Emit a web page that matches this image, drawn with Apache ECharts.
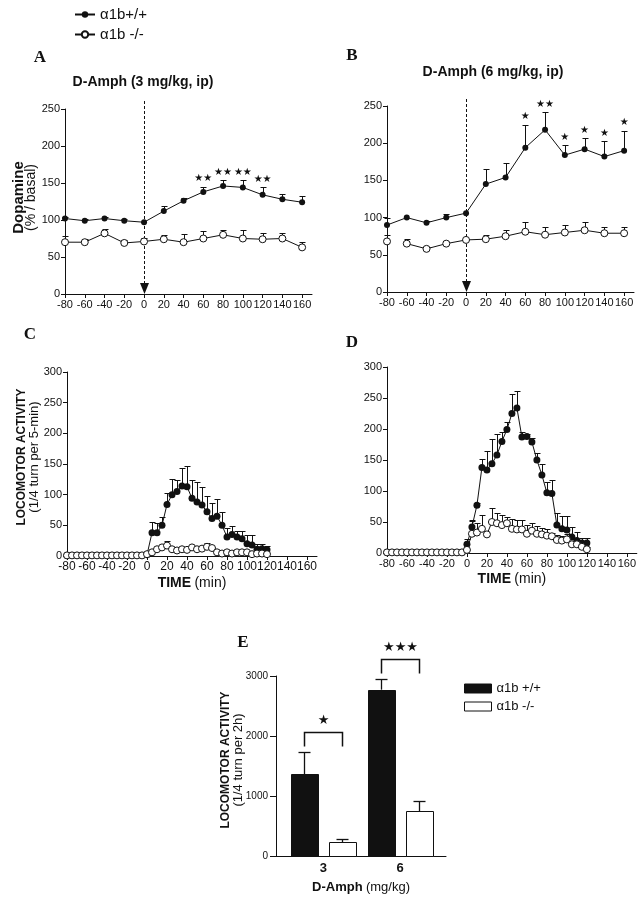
<!DOCTYPE html>
<html><head><meta charset="utf-8">
<script src="https://cdn.jsdelivr.net/npm/echarts@6/dist/echarts.min.js"></script>
<style>html,body{margin:0;padding:0;background:#fff}#c{width:639px;height:900px}</style>
</head><body><div id="c"></div>
<script>
// ---------- DATA ----------
const timeTicks = [-80,-60,-40,-20,0,20,40,60,80,100,120,140,160];
const dopTimes = [-80,-60,-40,-20,0,20,40,60,80,100,120,140,160];
const dopA_wt     = [102,99,102,99,97,112,126,138,146,144,134,128,124];
const dopA_wt_err = [2,2,2,2,0,7,4,7,8,10,10,7,9];
const dopA_ko     = [70,70,82,69,71,74,70,75,80,75,74,75,63];
const dopA_ko_err = [8,5,6,4,5,6,11,10,7,11,8,7,7];
const starsA      = [0,0,0,0,0,0,0,2,2,2,2,0,0];
const dopB_wt     = [90,100,93,100,106,145,154,194,218,184,192,182,190];
const dopB_wt_err = [10,0,3,5,0,20,20,31,24,13,15,21,27];
const dopB_ko     = [68,65,58,65,70,71,75,81,77,80,83,79,79];
const dopB_ko_err = [8,6,3,0,0,6,8,13,11,10,11,8,8];
const starsB      = [0,0,0,0,0,0,0,1,2,1,1,1,1];
const dopB_koBreakAfter = [0];

const locTimes = [-80,-75,-70,-65,-60,-55,-50,-45,-40,-35,-30,-25,-20,-15,-10,-5,0,5,10,15,20,25,30,35,40,45,50,55,60,65,70,75,80,85,90,95,100,105,110,115,120];
const locC_wt     = [1,1,1,1,1,1,1,1,1,1,1,1,1,1,1,1,2,38,38,50,84,100,105,114,113,94,88,83,72,61,65,50,31,35,31,28,20,18,11,12,10];
const locC_wt_err = [0,0,0,0,0,0,0,0,0,0,0,0,0,0,0,0,0,17,15,14,19,25,19,29,34,30,32,30,26,25,28,21,14,14,9,12,14,16,9,8,6];
const locC_ko     = [1,1,1,1,1,1,1,1,1,1,1,1,1,1,1,1,3,6,11,14,17,11,9,11,10,14,11,12,15,13,6,4,6,4,6,6,6,3,4,4,3];
const locC_ko_err = [0,0,0,0,0,0,0,0,0,0,0,0,0,0,0,0,0,0,0,0,7,0,0,0,0,0,0,0,6,0,0,0,0,0,0,0,0,0,0,0,0];
const locD_wt     = [1,1,1,1,1,1,1,1,1,1,1,1,1,1,1,1,14,42,77,138,134,144,158,180,199,225,234,187,188,179,150,126,97,96,45,39,37,26,20,16,16];
const locD_wt_err = [0,0,0,0,0,0,0,0,0,0,0,0,0,0,0,0,9,12,4,14,30,40,34,15,12,32,27,8,4,6,12,18,17,22,20,21,22,16,14,9,9];
const locD_ko     = [1,1,1,1,1,1,1,1,1,1,1,1,1,1,1,1,5,31,33,39,30,50,48,45,48,39,38,38,31,36,31,30,28,27,21,20,22,14,14,10,6];
const locD_ko_err = [0,0,0,0,0,0,0,0,0,0,0,0,0,0,0,0,0,20,15,23,0,23,16,17,10,16,16,16,14,12,12,10,11,6,8,8,8,6,6,5,4];

const doses = [3, 6];
const totWT     = [1361, 2772];
const totWT_err = [378, 184];
const totKO     = [228, 744];
const totKO_err = [61, 178];
const totSig    = ['★', '★★★'];
const injectionTime = 0;

// ---------- STYLE ----------
const F = '"Liberation Sans", Arial, sans-serif';
const INK = '#111';
const WT = 'α1b+/+', KO = 'α1b -/-', WT2 = 'α1b +/+';

const chart = echarts.init(document.getElementById('c'));

function timeX(gi, fs) {
  return {type:'value', gridIndex:gi, min:-80, max:170, interval:20,
    axisLine:{show:true, onZero:false, lineStyle:{color:INK, width:1}},
    axisTick:{show:true, length:4, customValues:timeTicks, lineStyle:{color:INK}},
    axisLabel:{customValues:timeTicks, color:INK, fontSize:fs, fontFamily:F, margin:5, showMinLabel:true, showMaxLabel:true, hideOverlap:false},
    splitLine:{show:false}};
}
function valY(gi, max, interval, extra) {
  return Object.assign({type:'value', gridIndex:gi, min:0, max:max, interval:interval,
    axisLine:{show:true, onZero:false, lineStyle:{color:INK, width:1}},
    axisTick:{show:true, length:4, lineStyle:{color:INK}},
    axisLabel:{color:INK, fontSize:11, fontFamily:F, margin:5},
    splitLine:{show:false}, nameMoveOverlap:false}, extra||{});
}
function lineS(name, ai, xs, vals, filled, size, breaks) {
  const data = [];
  xs.forEach((x,i)=>{ data.push([x, vals[i]]); if (breaks && breaks.indexOf(i) >= 0) data.push([x, '-']); });
  return {type:'line', name:name, xAxisIndex:ai, yAxisIndex:ai, z:3, data:data,
    symbol:'circle', symbolSize:size, showAllSymbol:true, connectNulls:false,
    itemStyle: filled ? {color:INK, borderColor:INK, borderWidth:0} : {color:'#fff', borderColor:INK, borderWidth:1},
    lineStyle:{color:INK, width:1}, emphasis:{disabled:true}};
}
function errS(ai, xs, vals, errs, cap) {
  return {type:'custom', xAxisIndex:ai, yAxisIndex:ai, silent:true, z:2,
    data: xs.map((x,i)=>[x, vals[i], errs[i]]),
    renderItem(params, api){
      const e = api.value(2); if (!e) return null;
      const x = api.value(0), v = api.value(1);
      const p0 = api.coord([x, v]), p1 = api.coord([x, v+e]);
      const cx = Math.round(p0[0]) + 0.5, ty = Math.round(p1[1]) + 0.5;
      return {type:'group', children:[
        {type:'line', shape:{x1:cx,y1:p0[1],x2:cx,y2:ty}, style:{stroke:INK, lineWidth:1}},
        {type:'line', shape:{x1:cx-cap,y1:ty,x2:cx+cap,y2:ty}, style:{stroke:INK, lineWidth:1}}
      ]};
    }};
}
function starS(ai, xs, vals, errs, counts) {
  return {type:'custom', xAxisIndex:ai, yAxisIndex:ai, silent:true, z:4,
    data: xs.map((x,i)=>[x, vals[i]+errs[i], counts[i]]),
    renderItem(params, api){
      const n = api.value(2); if (!n) return null;
      const p = api.coord([api.value(0), api.value(1)]);
      return {type:'text', style:{text:'★'.repeat(n), x:p[0], y:p[1]-8, align:'center', verticalAlign:'middle',
        fill:INK, font:'10px "DejaVu Sans"'}};
    }};
}
const dashTop = 262;
function injS(ai) {
  return {type:'custom', xAxisIndex:ai, yAxisIndex:ai, silent:true, z:2, clip:false,
    data:[[injectionTime, 0]],
    renderItem(params, api){
      const p0 = api.coord([api.value(0), api.value(1)]);
      const p1 = api.coord([api.value(0), dashTop]);
      const x = Math.round(p0[0]) + 0.5;
      return {type:'group', children:[
        {type:'line', shape:{x1:x,y1:p0[1]-10,x2:x,y2:p1[1]}, style:{stroke:INK, lineWidth:1, lineDash:[3,2]}},
        {type:'polygon', shape:{points:[[x-4.5,p0[1]-11],[x+4.5,p0[1]-11],[x,p0[1]]]}, style:{fill:INK}}
      ]};
    }};
}
const barOff = 19, barW = 27;
function barS(name, vals, errs, side, fill) {
  return {type:'custom', name:name, xAxisIndex:4, yAxisIndex:4, z:3,
    itemStyle:{color:fill, borderColor:INK, borderWidth:1},
    data: doses.map((d,i)=>[d, vals[i], errs[i]]),
    renderItem(params, api){
      const d = api.value(0), v = api.value(1), e = api.value(2);
      const b = api.coord([d, 0]), t = api.coord([d, v]), et = api.coord([d, v+e]);
      const cx = Math.round(b[0] + side*barOff) + 0.5;
      const ty = Math.round(et[1]) + 0.5;
      return {type:'group', children:[
        {type:'line', shape:{x1:cx,y1:t[1],x2:cx,y2:ty}, style:{stroke:INK, lineWidth:1.3}},
        {type:'line', shape:{x1:cx-6,y1:ty,x2:cx+6,y2:ty}, style:{stroke:INK, lineWidth:1.3}},
        {type:'rect', shape:{x:Math.round(cx-barW/2)+0.5, y:Math.round(t[1])+0.5, width:barW, height:Math.round(b[1]-t[1])},
          style:{fill:fill, stroke:INK, lineWidth:1}}
      ]};
    }};
}
function sigS() {
  return {type:'custom', xAxisIndex:4, yAxisIndex:4, silent:true, z:4, clip:false,
    data: doses.map((d,i)=>[d, totWT[i]+totWT_err[i], i]),
    renderItem(params, api){
      const d = api.value(0), top = api.value(1), i = api.value(2);
      const p = api.coord([d, top]);
      const c = api.coord([d, 0])[0];
      const l = Math.round(c - barOff) + 0.5, r = Math.round(c + barOff) + 0.5;
      const y = Math.round(p[1] - 20) + 0.5;
      const st = {stroke:INK, lineWidth:1.5};
      return {type:'group', children:[
        {type:'polyline', shape:{points:[[l,y+14],[l,y],[r,y],[r,y+14]]}, style:Object.assign({fill:null}, st)},
        {type:'text', style:{text:totSig[i], x:(l+r)/2, y:y-12, align:'center', verticalAlign:'middle', fill:INK, font:'13px "DejaVu Sans"'}}
      ]};
    }};
}

const nameRich = {
  a:{fontSize:15, fontWeight:'bold', fontFamily:F, color:INK, lineHeight:13},
  b:{fontSize:14, fontFamily:F, color:INK, lineHeight:13},
  la:{fontSize:12, fontWeight:'bold', fontFamily:F, color:INK, lineHeight:12},
  lb:{fontSize:13, fontFamily:F, color:INK, lineHeight:13},
  ta:{fontSize:14, fontWeight:'bold', fontFamily:F, color:INK},
  tb:{fontSize:14, fontFamily:F, color:INK},
  ea:{fontSize:13, fontWeight:'bold', fontFamily:F, color:INK},
  eb:{fontSize:13, fontFamily:F, color:INK}
};

const option = {
  animation:false,
  backgroundColor:'#fff',
  textStyle:{fontFamily:F, color:INK},
  grid:[
    {left:65, top:109, width:247, height:185},
    {left:387, top:106, width:247, height:186},
    {left:67, top:372, width:250, height:184},
    {left:387, top:367, width:250, height:186},
    {left:276, top:676, width:170, height:180}
  ],
  xAxis:[
    timeX(0, 11), timeX(1, 11),
    Object.assign(timeX(2, 12), {name:'{ta|TIME} {tb|(min)}', nameLocation:'middle', nameGap:20, nameMoveOverlap:false, nameTextStyle:{rich:nameRich}}),
    Object.assign(timeX(3, 11), {name:'{ta|TIME} {tb|(min)}', nameLocation:'middle', nameGap:19, nameMoveOverlap:false, nameTextStyle:{rich:nameRich}}),
    {type:'value', gridIndex:4, min:1.14, max:7.8,
      axisLine:{show:true, onZero:false, lineStyle:{color:INK, width:1}},
      axisTick:{show:false, customValues:doses},
      axisLabel:{customValues:doses, color:INK, fontSize:13, fontWeight:'bold', fontFamily:F, margin:6},
      splitLine:{show:false}, nameMoveOverlap:false,
      name:'{ea|D-Amph} {eb|(mg/kg)}', nameLocation:'middle', nameGap:25, nameTextStyle:{rich:nameRich}}
  ],
  yAxis:[
    valY(0, 250, 50, {name:'{a|Dopamine}\n{b|(% / basal)}', nameLocation:'middle', nameRotate:90, nameGap:27,
      nameTextStyle:{rich:nameRich, padding:[0,0,0,8]}}),
    valY(1, 250, 50),
    valY(2, 300, 50, {name:'{la|LOCOMOTOR ACTIVITY}\n{lb|(1/4 turn per 5-min)}', nameLocation:'middle', nameRotate:90, nameGap:26,
      nameTextStyle:{rich:nameRich, padding:[0,0,0,14]}}),
    valY(3, 300, 50),
    valY(4, 3000, 1000, {axisTick:{show:true, length:6, lineStyle:{color:INK}},
      axisLabel:{color:INK, fontSize:10, fontFamily:F, margin:8, formatter:(v)=>String(v)},
      name:'{la|LOCOMOTOR ACTIVITY}\n{lb|(1/4 turn per 2h)}', nameLocation:'middle', nameRotate:90, nameGap:31,
      nameTextStyle:{rich:nameRich, padding:[0,0,0,12]}})
  ],
  legend:[
    {data:[{name:WT},{name:KO}], orient:'vertical', left:69, top:2, itemWidth:20, itemHeight:8, itemGap:5,
      selectedMode:false, textStyle:{fontSize:15, fontFamily:F, color:INK}},
    {data:[{name:WT2, icon:'rect', itemStyle:{color:INK, borderColor:INK, borderWidth:1}},
           {name:KO, icon:'rect', itemStyle:{color:'#fff', borderColor:INK, borderWidth:1}}],
      orient:'vertical', left:459, top:677, itemWidth:27, itemHeight:9, itemGap:5,
      selectedMode:false, textStyle:{fontSize:13, fontFamily:F, color:INK}}
  ],
  graphic:[
    {type:'text', x:143, y:82, style:{text:'D-Amph (3 mg/kg, ip)', align:'center', verticalAlign:'middle', font:'bold 14px "Liberation Sans"', fill:INK}},
    {type:'text', x:493, y:72, style:{text:'D-Amph (6 mg/kg, ip)', align:'center', verticalAlign:'middle', font:'bold 14px "Liberation Sans"', fill:INK}},
    {type:'text', x:40, y:58, style:{text:'A', align:'center', verticalAlign:'middle', font:'bold 17px "Liberation Serif"', fill:INK}},
    {type:'text', x:352, y:56, style:{text:'B', align:'center', verticalAlign:'middle', font:'bold 17px "Liberation Serif"', fill:INK}},
    {type:'text', x:30, y:335, style:{text:'C', align:'center', verticalAlign:'middle', font:'bold 17px "Liberation Serif"', fill:INK}},
    {type:'text', x:352, y:343, style:{text:'D', align:'center', verticalAlign:'middle', font:'bold 17px "Liberation Serif"', fill:INK}},
    {type:'text', x:243, y:643, style:{text:'E', align:'center', verticalAlign:'middle', font:'bold 17px "Liberation Serif"', fill:INK}}
  ],
  series:[
    errS(0, dopTimes, dopA_wt, dopA_wt_err, 3),
    errS(0, dopTimes, dopA_ko, dopA_ko_err, 3),
    lineS(WT, 0, dopTimes, dopA_wt, true, 6),
    lineS(KO, 0, dopTimes, dopA_ko, false, 7),
    starS(0, dopTimes, dopA_wt, dopA_wt_err, starsA),
    injS(0),
    errS(1, dopTimes, dopB_wt, dopB_wt_err, 3),
    errS(1, dopTimes, dopB_ko, dopB_ko_err, 3),
    lineS(WT, 1, dopTimes, dopB_wt, true, 6),
    lineS(KO, 1, dopTimes, dopB_ko, false, 7, dopB_koBreakAfter),
    starS(1, dopTimes, dopB_wt, dopB_wt_err, starsB),
    injS(1),
    errS(2, locTimes, locC_wt, locC_wt_err, 3),
    errS(2, locTimes, locC_ko, locC_ko_err, 3),
    lineS(WT, 2, locTimes, locC_wt, true, 7),
    lineS(KO, 2, locTimes, locC_ko, false, 7),
    errS(3, locTimes, locD_wt, locD_wt_err, 3),
    errS(3, locTimes, locD_ko, locD_ko_err, 3),
    lineS(WT, 3, locTimes, locD_wt, true, 7),
    lineS(KO, 3, locTimes, locD_ko, false, 7),
    barS(WT2, totWT, totWT_err, -1, INK),
    barS(KO, totKO, totKO_err, 1, '#fff'),
    sigS()
  ]
};
chart.setOption(option);
</script>
</body></html>
